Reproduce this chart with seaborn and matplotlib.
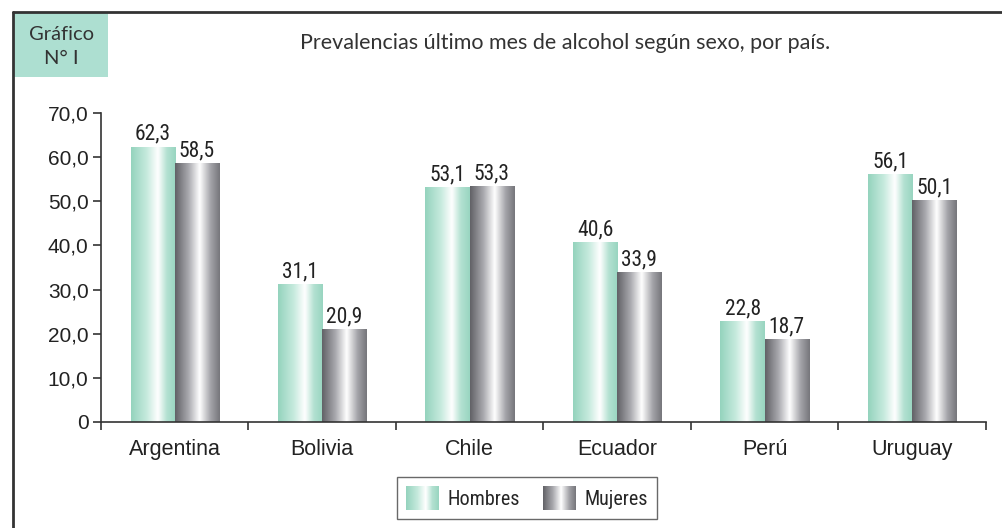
import numpy as np
import pandas as pd
import seaborn as sns
import matplotlib.pyplot as plt
from matplotlib import font_manager as fm
from matplotlib.colors import LinearSegmentedColormap
from matplotlib.legend_handler import HandlerBase
from matplotlib.image import BboxImage
from matplotlib.transforms import Bbox, TransformedBbox
from matplotlib.patches import Rectangle

# datos
paises = ["Argentina", "Bolivia", "Chile", "Ecuador", "Perú", "Uruguay"]
hombres = [62.3, 31.1, 53.1, 40.6, 22.8, 56.1]
mujeres = [58.5, 20.9, 53.3, 33.9, 18.7, 50.1]
sexos = ["Hombres", "Mujeres"]
yticks = [0, 10, 20, 30, 40, 50, 60, 70]

df = pd.DataFrame({
    "pais": paises * 2,
    "sexo": [sexos[0]] * len(paises) + [sexos[1]] * len(paises),
    "valor": hombres + mujeres,
})

# degradados tipo "cilindro"
cmap_verde = LinearSegmentedColormap.from_list("verde", [
    (0.0, "#94d3bd"), (0.35, "#c6eadd"), (0.6, "#ffffff"),
    (0.8, "#b3e1d1"), (1.0, "#98d5c0")])
cmap_gris = LinearSegmentedColormap.from_list("gris", [
    (0.0, "#616166"), (0.3, "#a9a9ae"), (0.55, "#ffffff"),
    (0.8, "#a2a2a7"), (1.0, "#76767b")])
cmaps = [cmap_verde, cmap_gris]
grad = np.linspace(0, 1, 256).reshape(1, -1)

sns.set_style("white")
plt.rcParams["font.family"] = ["Liberation Sans", "DejaVu Sans"]

# fuente estrecha para etiquetas de valor y leyenda, si existe
instaladas = {f.name for f in fm.fontManager.ttflist}
estrecha = next((n for n in ["Liberation Sans Narrow", "Arial Narrow",
                             "Roboto Condensed", "Archivo Narrow"]
                 if n in instaladas), None)
narrow = ([estrecha] if estrecha else []) + ["Liberation Sans", "DejaVu Sans"]
size_val = 15.5 if estrecha else 13.5
size_leg = 14.5 if estrecha else 13

fig = plt.figure(figsize=(10.02, 5.28), dpi=100)
ax = fig.add_axes([0.1008, 0.2008, 0.8832, 0.5852])

sns.barplot(data=df, x="pais", y="valor", hue="sexo", order=paises,
            hue_order=sexos, palette=["#9dd7c3", "#808085"], width=0.6,
            gap=0, legend=False, ax=ax, linewidth=0)

# rellenar cada barra con su degradado
for cont, cm in zip(ax.containers, cmaps):
    for bar in cont:
        x0, w, h = bar.get_x(), bar.get_width(), bar.get_height()
        ax.imshow(grad, extent=[x0, x0 + w, 0, h], aspect="auto", cmap=cm,
                  zorder=2, interpolation="bicubic")
        bar.set_visible(False)

for cont, vals in zip(ax.containers, [hombres, mujeres]):
    ax.bar_label(cont, labels=[f"{v:.1f}".replace(".", ",") for v in vals],
                 padding=1.5, fontsize=size_val, color="#222222", family=narrow)

ax.set_xlim(-0.5, len(paises) - 0.5)
ax.set_ylim(0, 70)
ax.set_yticks(yticks)
ax.set_yticklabels(["0"] + [f"{v:.1f}".replace(".", ",") for v in yticks[1:]],
                   fontsize=15, color="#222222")
ax.set_xticks(np.arange(-0.5, len(paises), 1.0))
ax.set_xticklabels([])
ax.set_xticks(range(len(paises)), minor=True)
ax.set_xticklabels(paises, minor=True, fontsize=15.5, color="#222222")
ax.tick_params(axis="x", which="major", direction="out", length=6, width=1.2,
               color="#333333", bottom=True)
ax.tick_params(axis="x", which="minor", length=0, pad=12)
ax.tick_params(axis="y", direction="out", length=6, width=1.2,
               color="#333333", left=True, pad=3)
ax.set_xlabel("")
ax.set_ylabel("")
for s in ["top", "right"]:
    ax.spines[s].set_visible(False)
for s in ["left", "bottom"]:
    ax.spines[s].set_color("#333333")
    ax.spines[s].set_linewidth(1.2)
ax.grid(False)


class HandlerDegradado(HandlerBase):
    def __init__(self, cm):
        super().__init__()
        self.cm = cm

    def create_artists(self, legend, orig_handle, xdescent, ydescent,
                       width, height, fontsize, trans):
        bb = Bbox.from_bounds(-xdescent, -ydescent, width, height)
        img = BboxImage(TransformedBbox(bb, trans), cmap=self.cm,
                        interpolation="bicubic")
        img.set_data(grad)
        return [img]


handles = [Rectangle((0, 0), 1, 1), Rectangle((0, 0), 1, 1)]
leg = fig.legend(handles, sexos, loc="center", bbox_to_anchor=(0.526, 0.057),
                 ncol=2, frameon=True, fancybox=False,
                 handlelength=1.6, handleheight=1.45, columnspacing=1.1,
                 handletextpad=0.5, borderpad=0.45, borderaxespad=0,
                 handler_map={handles[0]: HandlerDegradado(cmap_verde),
                              handles[1]: HandlerDegradado(cmap_gris)},
                 prop={"family": narrow, "size": size_leg})
leg.get_frame().set_edgecolor("#444444")
leg.get_frame().set_linewidth(1.0)

# marco y recuadro del título
fig.add_artist(plt.Line2D([0.013, 0.013], [0.0, 0.977], color="#333333",
                          lw=2, transform=fig.transFigure))
fig.add_artist(plt.Line2D([0.013, 1.0], [0.977, 0.977], color="#333333",
                          lw=2, transform=fig.transFigure))
fig.add_artist(Rectangle((0.014, 0.854), 0.094, 0.122, facecolor="#addfd1",
                         edgecolor="none", transform=fig.transFigure))
fig.text(0.061, 0.912, "Gráfico\nN° I", ha="center", va="center",
         fontsize=14.5, color="#333333", family=["Lato", "DejaVu Sans"],
         linespacing=1.45)
fig.text(0.564, 0.918, "Prevalencias último mes de alcohol según sexo, por país.",
         ha="center", va="center", fontsize=15.5, color="#333333",
         family=["Lato", "DejaVu Sans"])

fig.savefig("out.png", dpi=100)
